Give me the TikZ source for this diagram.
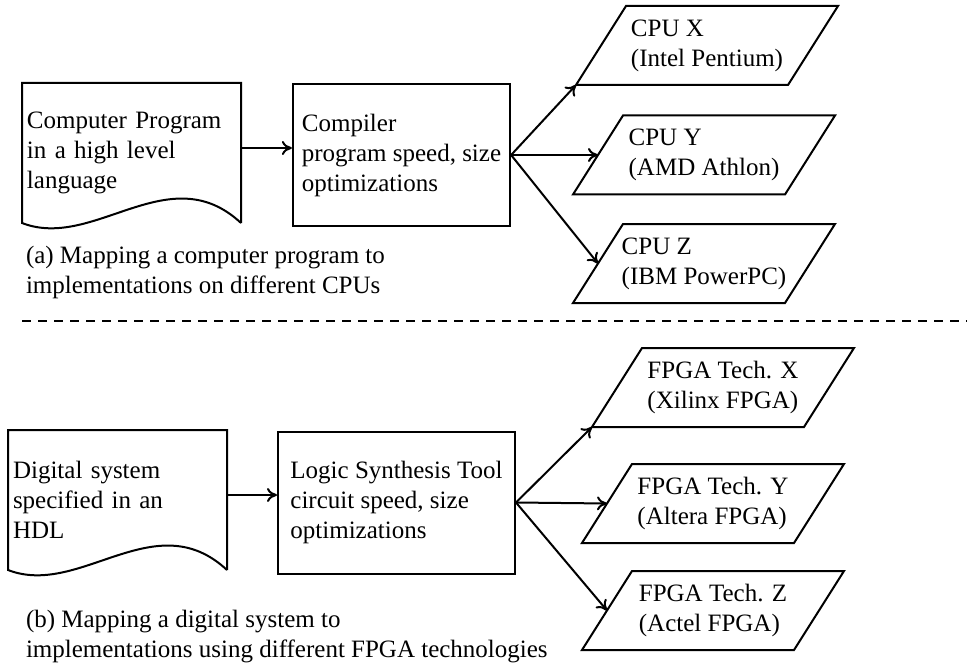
\documentclass[tikz,border=0pt]{standalone}
\usepackage{fontspec}
\setmainfont{Liberation Serif}
\usetikzlibrary{positioning}
\usetikzlibrary{arrows,arrows.meta}
\usetikzlibrary{shapes}
\tikzset{
        textnode/.style={align=left,font=\fontsize{25}{30}\selectfont},
        % Source documents (wavy bottom drawn afterwards)
        node_doc/.style={textnode, rectangle, inner sep=4pt, text width=209pt, minimum height=138pt},
        % Tool boxes
        node_tool/.style={textnode, rectangle, draw, inner sep=9pt, minimum height=142pt},
        % Targets (slanted outline drawn afterwards)
        node_target/.style={textnode, rectangle, inner sep=0pt, minimum width=210pt, minimum height=77pt},
        % Captions
        node_caption/.style={textnode, anchor=west, inner sep=0pt},
        % Mapping arrows
        map_edge/.style={-{To[length=10pt,width=14pt]}}
}

\begin{document}
\begin{tikzpicture}[
            x=1pt, y=-1pt,
            line width=2pt
        ]
            \useasboundingbox (0,0) rectangle (967,666);

            % (a) computer program
            \node[node_doc] (prog) at (131.5,153) {Computer Program\\in a high level\\language};
            \node[node_tool, minimum width=217pt] (compiler) at (401.5,155) {Compiler\\program speed, size\\optimizations};
            \node[node_target] (cpu_x) at (707,45.5) {CPU X\\(Intel Pentium)};
            \node[node_target] (cpu_y) at (704,155) {CPU Y\\(AMD Athlon)};
            \node[node_target] (cpu_z) at (704,263.5) {CPU Z\\(IBM PowerPC)};
            \node[node_caption] (cap_a) at (25,272) {(a) Mapping a computer program to\\implementations on different CPUs};

            % separator
            \coordinate (sep_l) at (22,321);
            \coordinate (sep_r) at (967,321);
            \draw[dash pattern=on 9pt off 7pt] (sep_l) -- (sep_r);

            % (b) digital system
            \node[node_doc] (hdl) at (117.5,500) {Digital system\\specified in an\\HDL};
            \node[node_tool, minimum width=237pt] (synth) at (396.5,502.5) {Logic Synthesis Tool\\circuit speed, size\\optimizations};
            \node[node_target] (fpga_x) at (723,387.5) {FPGA Tech. X\\(Xilinx FPGA)};
            \node[node_target] (fpga_y) at (713,503.5) {FPGA Tech. Y\\(Altera FPGA)};
            \node[node_target] (fpga_z) at (713,610.5) {FPGA Tech. Z\\(Actel FPGA)};
            \node[node_caption] (cap_b) at (25,637) {(b) Mapping a digital system to\\implementations using different FPGA technologies};

            % document outlines
            \foreach \d in {prog,hdl}
                \draw (\d.south east) -- (\d.north east) -- (\d.north west) -- (\d.south west)
                    .. controls +(72,28) and +(-72,-67) .. (\d.south east);

            % slanted outlines
            \foreach \t in {cpu_x,cpu_y,cpu_z,fpga_x,fpga_y,fpga_z}
                \draw ([xshift=25pt]\t.north west) -- ([xshift=25pt]\t.north east)
                    -- ([xshift=-25pt]\t.south east) -- ([xshift=-25pt]\t.south west) -- cycle;

            % arrows
            \draw[map_edge] ([yshift=5pt]prog.east) -- ([yshift=5pt]prog.east -| compiler.west);
            \draw[map_edge] (compiler.east) -- ([xshift=-25pt]cpu_x.south west);
            \draw[map_edge] (compiler.east) -- (cpu_y.west);
            \draw[map_edge] (compiler.east) -- (cpu_z.west);
            \draw[map_edge] ([yshift=5pt]hdl.east) -- ([yshift=5pt]hdl.east -| synth.west);
            \draw[map_edge] (synth.east) -- ([xshift=-25pt]fpga_x.south west);
            \draw[map_edge] (synth.east) -- (fpga_y.west);
            \draw[map_edge] (synth.east) -- (fpga_z.west);
        \end{tikzpicture}
\end{document}
